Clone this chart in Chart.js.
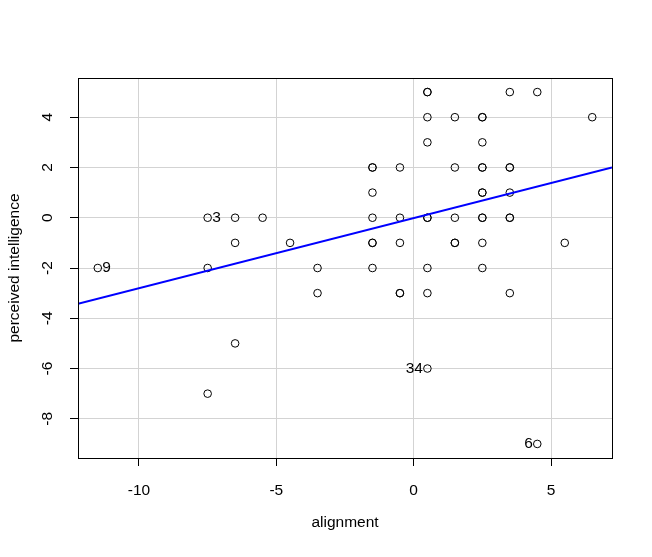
<!DOCTYPE html>
<html>
<head>
<meta charset="utf-8">
<script src="https://cdn.jsdelivr.net/npm/chart.js@4/dist/chart.umd.min.js"></script>
<style>
  body { margin: 0; background: #fff; }
  #wrap { width: 652px; height: 557px; }
</style>
</head>
<body>
<div id="wrap"><canvas id="scatter" width="652" height="557"></canvas></div>
<script>
// one entry per respondent, grouped by row of the plot
const alignment = [
    0.5, 0.5, 3.5, 4.5,
    0.5, 1.5, 2.5, 2.5, 6.5,
    0.5, 2.5,
    -1.5, -1.5, -0.5, 1.5, 2.5, 2.5, 3.5, 3.5,
    -1.5, 2.5, 2.5, 3.5,
    -7.5, -6.5, -5.5, -1.5, -0.5, 0.5, 0.5, 1.5, 2.5, 2.5, 3.5, 3.5,
    -6.5, -4.5, -1.5, -1.5, -0.5, 1.5, 1.5, 2.5, 5.5,
    -11.5, -7.5, -3.5, -1.5, 0.5, 2.5,
    -3.5, -0.5, -0.5, 0.5, 3.5,
    -6.5,
    0.5,
    -7.5,
    4.5
];
const intelligence = [
    5, 5, 5, 5,
    4, 4, 4, 4, 4,
    3, 3,
    2, 2, 2, 2, 2, 2, 2, 2,
    1, 1, 1, 1,
    0, 0, 0, 0, 0, 0, 0, 0, 0, 0, 0, 0,
    -1, -1, -1, -1, -1, -1, -1, -1, -1,
    -2, -2, -2, -2, -2, -2,
    -3, -3, -3, -3, -3,
    -5,
    -6,
    -7,
    -9
];
const pointNames = [
    '', '', '', '',
    '', '', '', '', '',
    '', '',
    '', '', '', '', '', '', '', '',
    '', '', '', '',
    '3', '', '', '', '', '', '', '', '', '', '', '',
    '', '', '', '', '', '', '', '', '',
    '9', '', '', '', '', '',
    '', '', '', '', '',
    '',
    '34',
    '',
    '6'
];

// fitted regression line, read at the plot edges
const fitX = [-12.22, 7.22];
const fitY = [-3.42, 2.0];

const xTicks = [-10, -5, 0, 5];
const yTicks = [-8, -6, -4, -2, 0, 2, 4];
const xRange = [-12.22, 7.22];
const yRange = [-9.56, 5.56];

const FONT = 'Liberation Sans, Arial, Helvetica, sans-serif';
const FSIZE = 15.5;
const labelSide = { '3': 'right', '9': 'right', '34': 'left', '6': 'left' };

const boxPlugin = {
    id: 'box',
    afterDatasetsDraw(chart) {
        const a = chart.chartArea;
        const ctx = chart.ctx;
        ctx.save();
        ctx.strokeStyle = '#000';
        ctx.lineWidth = 1;
        ctx.strokeRect(Math.round(a.left) + 0.5, Math.round(a.top) + 0.5,
            Math.round(a.right - a.left), Math.round(a.bottom - a.top));

        // point ids next to the outliers
        const meta = chart.getDatasetMeta(1);
        ctx.fillStyle = '#000';
        ctx.font = FSIZE + 'px ' + FONT;
        ctx.textBaseline = 'middle';
        pointNames.forEach((name, i) => {
            if (!name) return;
            const el = meta.data[i];
            if (labelSide[name] === 'right') {
                ctx.textAlign = 'left';
                ctx.fillText(name, el.x + 4.5, el.y);
            } else {
                ctx.textAlign = 'right';
                ctx.fillText(name, el.x - 4.5, el.y);
            }
        });
        ctx.restore();
    }
};

const points = alignment.map((x, i) => ({ x: x, y: intelligence[i] }));
const fitLine = fitX.map((x, i) => ({ x: x, y: fitY[i] }));

new Chart(document.getElementById('scatter').getContext('2d'), {
    type: 'scatter',
    data: {
        datasets: [{
            type: 'line',
            data: fitLine,
            borderColor: '#0000ff',
            borderWidth: 2,
            pointRadius: 0,
            fill: false
        }, {
            data: points,
            pointStyle: 'circle',
            pointRadius: 3.8,
            borderWidth: 1,
            borderColor: '#000',
            backgroundColor: 'rgba(0,0,0,0)'
        }]
    },
    options: {
        responsive: false,
        animation: false,
        events: [],
        layout: { padding: { top: 78, right: 40, left: 0, bottom: 0 } },
        plugins: {
            legend: { display: false },
            tooltip: { enabled: false }
        },
        scales: {
            x: {
                type: 'linear',
                min: xRange[0],
                max: xRange[1],
                afterBuildTicks: s => { s.ticks = xTicks.map(v => ({ value: v })); },
                afterFit: s => { s.height = 99; },
                grid: { color: '#d3d3d3', lineWidth: 1, tickLength: 8, tickColor: '#000' },
                border: { display: false },
                ticks: {
                    color: '#000',
                    font: { family: FONT, size: FSIZE },
                    padding: 15,
                    maxRotation: 0,
                    autoSkip: false
                },
                title: {
                    display: true,
                    text: 'alignment',
                    color: '#000',
                    font: { family: FONT, size: FSIZE },
                    padding: { top: 0, bottom: 25 }
                }
            },
            y: {
                type: 'linear',
                min: yRange[0],
                max: yRange[1],
                afterBuildTicks: s => { s.ticks = yTicks.map(v => ({ value: v })); },
                afterFit: s => { s.width = 78; },
                grid: { color: '#d3d3d3', lineWidth: 1, tickLength: 8, tickColor: '#000' },
                border: { display: false },
                ticks: {
                    color: '#000',
                    font: { family: FONT, size: FSIZE },
                    padding: 15,
                    minRotation: 90,
                    maxRotation: 90,
                    crossAlign: 'center',
                    autoSkip: false
                },
                title: {
                    display: true,
                    text: 'perceived intelligence',
                    color: '#000',
                    font: { family: FONT, size: FSIZE },
                    padding: { top: 5, bottom: 0 }
                }
            }
        }
    },
    plugins: [boxPlugin]
});
</script>
</body>
</html>
